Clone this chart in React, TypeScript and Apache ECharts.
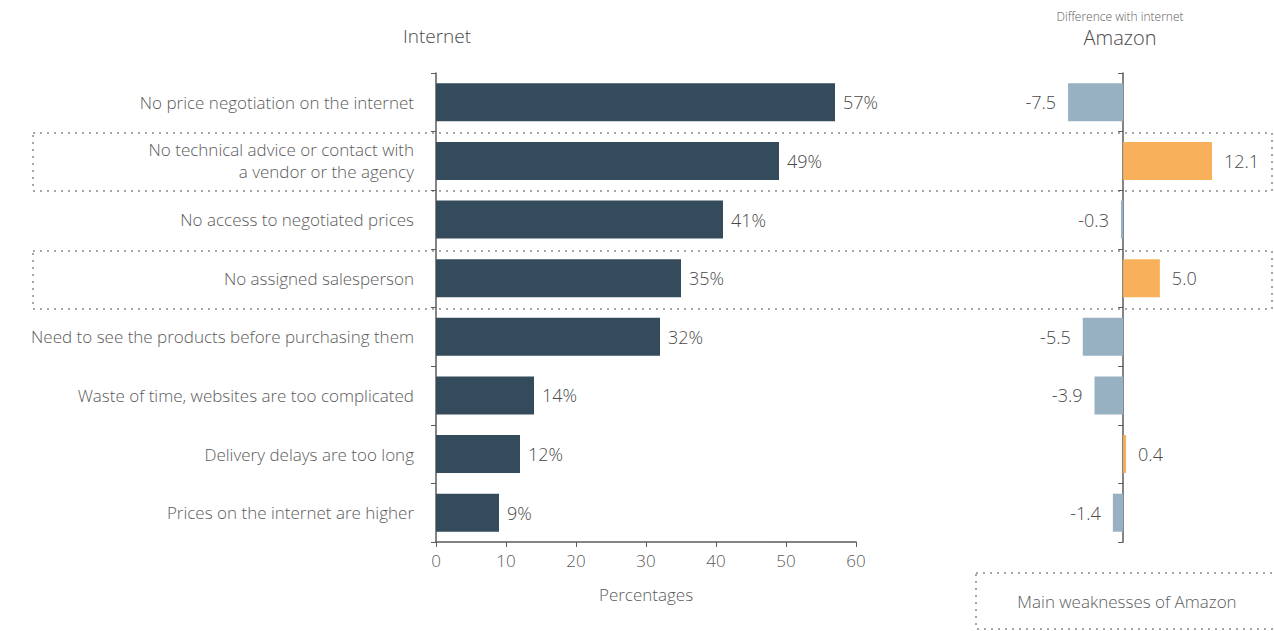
import React, { useEffect, useRef } from "react";
import * as echarts from "echarts";

const categories = [
  "No price negotiation on the internet",
  "No technical advice or contact with\na vendor or the agency",
  "No access to negotiated prices",
  "No assigned salesperson",
  "Need to see the products before purchasing them",
  "Waste of time, websites are too complicated",
  "Delivery delays are too long",
  "Prices on the internet are higher",
];
const internetPct = [57, 49, 41, 35, 32, 14, 12, 9];
const amazonDiff = [-7.5, 12.1, -0.3, 5.0, -5.5, -3.9, 0.4, -1.4];
const xTicks = { min: 0, max: 60, interval: 10 };

const FONT = "'Open Sans', 'Noto Sans', sans-serif";
const TXT = "#5b5b5b";
const LBL = "#4a4a4a";
const DARK = "#344b5b";
const NEG = "#97b1c2";
const POS = "#f8b05a";
const DOT = "#a6a6a6";
const W = 300;

export default function App() {
  const ref = useRef<HTMLDivElement>(null);
  useEffect(() => {
    if (!ref.current) return;
    const chart = echarts.init(ref.current, undefined, { renderer: "svg" });
    const dotted = {
      stroke: DOT,
      lineWidth: 2,
      lineDash: [2, 5],
      fill: "none",
    };
    chart.setOption({
      animation: false,
      textStyle: { fontFamily: FONT, fontWeight: W },
      grid: [
        { left: 436, right: 418, top: 73, bottom: 89 },
        { left: 1013, width: 257, top: 73, bottom: 89 },
      ],
      xAxis: [
        {
          gridIndex: 0,
          type: "value",
          min: xTicks.min,
          max: xTicks.max,
          interval: xTicks.interval,
          splitLine: { show: false },
          axisLine: { show: true, lineStyle: { color: TXT, width: 1.5 } },
          axisTick: { show: true, length: 5, lineStyle: { color: TXT } },
          axisLabel: { color: TXT, fontSize: 17, margin: 10, fontFamily: FONT, fontWeight: W },
          name: "Percentages",
          nameLocation: "middle",
          nameGap: 44,
          nameTextStyle: { color: TXT, fontSize: 17, fontFamily: FONT, fontWeight: W },
        },
        {
          gridIndex: 1,
          type: "value",
          min: -15,
          max: 20,
          show: false,
        },
      ],
      yAxis: [
        {
          gridIndex: 0,
          type: "category",
          data: categories,
          inverse: true,
          axisLine: { show: true, lineStyle: { color: TXT, width: 1.5 } },
          axisTick: { show: true, length: 5, lineStyle: { color: TXT } },
          axisLabel: {
            color: TXT,
            fontSize: 17,
            margin: 22,
            lineHeight: 22,
            fontFamily: FONT,
            fontWeight: W,
          },
        },
        {
          gridIndex: 1,
          type: "category",
          data: categories,
          inverse: true,
          axisLine: { show: true, onZero: true, lineStyle: { color: TXT, width: 1.5 } },
          axisTick: { show: true, length: 5, lineStyle: { color: TXT } },
          axisLabel: { show: false },
        },
      ],
      series: [
        {
          type: "bar",
          xAxisIndex: 0,
          yAxisIndex: 0,
          data: internetPct,
          barWidth: 38,
          z: 3,
          itemStyle: { color: DARK },
          label: {
            show: true,
            position: "right",
            distance: 8,
            formatter: "{c}%",
            color: LBL,
            fontSize: 18,
            fontFamily: FONT,
            fontWeight: W,
          },
        },
        {
          type: "bar",
          xAxisIndex: 1,
          yAxisIndex: 1,
          barWidth: 38,
          z: 3,
          data: amazonDiff.map((v) => ({
            value: v,
            itemStyle: { color: v < 0 ? NEG : POS },
            label: { position: v < 0 ? "left" : "right" },
          })),
          label: {
            show: true,
            distance: 12,
            formatter: (p: any) => Number(p.value).toFixed(1),
            color: LBL,
            fontSize: 18,
            fontFamily: FONT,
            fontWeight: W,
          },
        },
      ],
      graphic: [
        {
          type: "rect",
          z: 0,
          shape: { x: 33, y: 133, width: 1239, height: 58 },
          style: dotted,
          silent: true,
        },
        {
          type: "rect",
          z: 0,
          shape: { x: 33, y: 251, width: 1239, height: 58 },
          style: dotted,
          silent: true,
        },
        {
          type: "rect",
          z: 0,
          shape: { x: 976, y: 573, width: 320, height: 56 },
          style: dotted,
          silent: true,
        },
        {
          type: "text",
          x: 1127,
          y: 601,
          style: {
            text: "Main weaknesses of Amazon",
            textAlign: "center",
            textVerticalAlign: "middle",
            fill: TXT,
            font: `${W} 17px ${FONT}`,
          },
        },
        {
          type: "text",
          x: 437,
          y: 36,
          style: {
            text: "Internet",
            textAlign: "center",
            textVerticalAlign: "middle",
            fill: LBL,
            font: `${W} 19px ${FONT}`,
          },
        },
        {
          type: "text",
          x: 1120,
          y: 16,
          style: {
            text: "Difference with internet",
            textAlign: "center",
            textVerticalAlign: "middle",
            fill: TXT,
            font: `${W} 12px ${FONT}`,
          },
        },
        {
          type: "text",
          x: 1120,
          y: 37,
          style: {
            text: "Amazon",
            textAlign: "center",
            textVerticalAlign: "middle",
            fill: LBL,
            font: `${W} 20px ${FONT}`,
          },
        },
      ],
    });
    return () => chart.dispose();
  }, []);
  return (
    <div
      ref={ref}
      style={{ position: "fixed", left: 0, top: 0, width: 1274, height: 631, background: "#fff" }}
    />
  );
}
